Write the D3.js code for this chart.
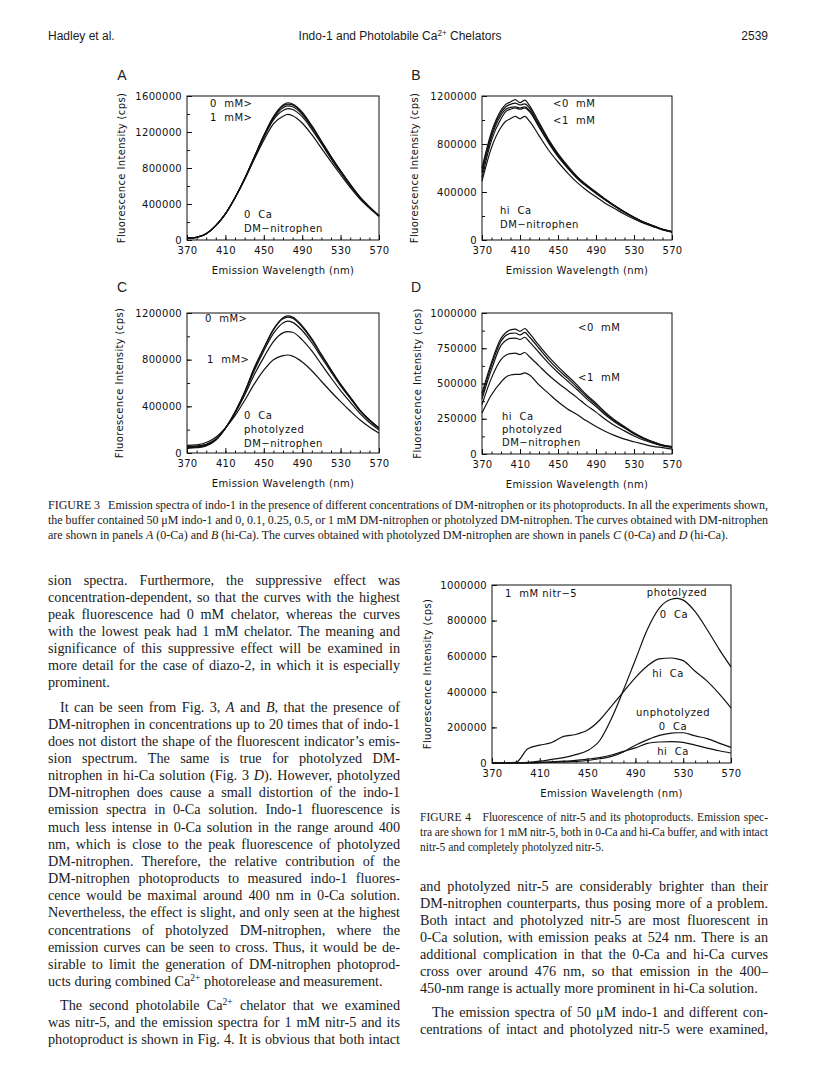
<!DOCTYPE html>
<html>
<head>
<meta charset="utf-8">
<script src="https://cdn.jsdelivr.net/npm/d3@7"></script>
<style>
  body { margin: 0; background: #fff; }
</style>
</head>
<body>
<svg id="page" width="816" height="1086"></svg>
<script>
// ---- data (intensities in thousands of cps) ----
const wlAC = [370,380,390,400,410,420,430,440,450,460,470,475,480,490,500,510,520,530,540,550,560,570]
const wlBD = [370,380,390,395,400,405,410,415,420,430,440,450,460,470,480,490,500,510,520,530,540,550,560,570]
const wlF4 = [370,380,390,400,410,420,430,440,450,460,470,480,490,500,510,520,525,530,540,550,560,570]

// A: 0 Ca, DM-nitrophen 0, 0.1, 0.25, 0.5, 1 mM
const a0   = [20,30,70,160,290,470,680,920,1160,1370,1500,1525,1510,1420,1270,1100,930,770,620,480,370,270]
const a01  = [20,30,70,160,290,470,680,920,1160,1365,1490,1510,1500,1410,1265,1095,925,765,615,478,368,268]
const a025 = [20,30,70,160,290,470,680,915,1150,1350,1470,1490,1480,1395,1250,1085,915,758,610,475,366,267]
const a05  = [20,30,70,160,290,470,675,910,1140,1335,1440,1460,1450,1370,1230,1070,905,750,605,470,363,265]
const a1   = [20,30,70,160,290,468,670,895,1110,1290,1375,1395,1380,1300,1170,1020,870,725,585,458,355,262]

// B: hi Ca, DM-nitrophen
const b0   = [600,900,1080,1130,1150,1170,1145,1165,1120,980,840,720,620,530,460,400,340,285,235,190,150,120,90,70]
const b01  = [580,880,1060,1110,1130,1140,1125,1135,1100,965,830,712,612,525,455,395,337,283,233,189,149,119,89,69]
const b025 = [560,860,1040,1090,1105,1110,1100,1110,1080,950,820,705,607,520,451,392,335,281,232,188,148,118,88,68]
const b05  = [520,830,1010,1070,1090,1100,1090,1100,1070,940,810,695,600,515,447,388,332,279,230,187,147,117,88,68]
const b1   = [490,770,940,990,1010,1030,1010,1030,990,870,750,650,560,480,415,360,305,260,215,175,140,112,85,66]

// C: 0 Ca, photolyzed DM-nitrophen
const c0   = [40,45,60,110,210,350,520,730,900,1060,1160,1175,1165,1090,980,845,715,590,480,370,285,215]
const c01  = [45,50,65,112,212,350,520,718,895,1055,1150,1165,1155,1080,970,838,710,586,477,368,283,214]
const c025 = [50,55,70,115,213,348,515,705,875,1025,1115,1130,1120,1050,945,820,695,575,468,362,279,211]
const c05  = [55,60,75,120,214,340,495,670,820,955,1030,1040,1035,970,875,760,645,535,437,340,262,198]
const c1   = [65,70,90,135,215,320,450,590,710,800,835,840,830,780,705,615,525,440,360,285,222,170]

// D: hi Ca, photolyzed DM-nitrophen
const d0   = [430,650,820,860,880,885,870,890,855,770,690,620,555,490,420,360,295,240,195,150,115,87,64,52]
const d01  = [410,630,800,840,855,858,845,862,830,750,670,600,538,475,408,350,287,234,190,146,112,85,63,51]
const d025 = [390,600,770,805,820,822,812,828,795,720,645,578,518,457,393,337,277,226,184,142,109,83,61,50]
const d05  = [350,540,670,700,712,715,705,720,690,625,560,503,452,400,345,297,245,200,164,128,99,76,57,47]
const d1   = [290,420,510,545,560,565,565,575,560,490,430,370,320,280,235,195,160,130,105,87,70,54,45,35]

// Fig 4: 1 mM nitr-5
const photo0Ca   = [0,0,0,3,10,20,30,47,70,125,250,410,580,750,870,920,925,915,850,750,640,540]
const photoHiCa  = [0,0,3,80,100,115,150,160,185,240,320,400,480,545,585,590,585,575,515,460,390,310]
const unph0Ca    = [0,0,0,0,2,4,6,9,14,24,37,62,100,130,155,168,170,170,152,137,112,88]
const unphHiCa   = [0,0,0,0,3,6,10,15,22,30,45,65,85,110,118,120,119,116,100,84,69,56]

// ---- layout ----
const panels = [
  {letter: "A", lx: 122, ly: 75, x0: 187, x1: 379, y0: 96, y1: 240, ymax: 1600, major: 400, minor: 200,
   wl: wlAC, series: [a0, a01, a025, a05, a1], titleX: 121,
   notes: [["0 mM>", 210, 103], ["1 mM>", 210, 117], ["0 Ca", 244, 214], ["DM\u2212nitrophen", 244, 228]]},
  {letter: "B", lx: 416, ly: 75, x0: 482, x1: 672, y0: 96, y1: 240, ymax: 1200, major: 400, minor: 200,
   wl: wlBD, series: [b0, b01, b025, b05, b1], titleX: 414,
   notes: [["<0 mM", 553, 103], ["<1 mM", 553, 120], ["hi Ca", 500, 210], ["DM\u2212nitrophen", 500, 224]]},
  {letter: "C", lx: 122, ly: 287, x0: 187, x1: 379, y0: 313, y1: 453, ymax: 1200, major: 400, minor: 200,
   wl: wlAC, series: [c0, c01, c025, c05, c1], titleX: 119,
   notes: [["0 mM>", 205, 318], ["1 mM>", 207, 359], ["0 Ca", 244, 415], ["photolyzed", 244, 429], ["DM\u2212nitrophen", 244, 443]]},
  {letter: "D", lx: 416, ly: 287, x0: 482, x1: 672, y0: 313, y1: 454, ymax: 1000, major: 250, minor: 125,
   wl: wlBD, series: [d0, d01, d025, d05, d1], titleX: 417,
   notes: [["<0 mM", 578, 327], ["<1 mM", 578, 377], ["hi Ca", 502, 416], ["photolyzed", 502, 429], ["DM\u2212nitrophen", 502, 442]]},
  {letter: "", x0: 492, x1: 731, y0: 585, y1: 763, ymax: 1000, major: 200, minor: 200,
   wl: wlF4, series: [photo0Ca, photoHiCa, unph0Ca, unphHiCa], titleX: 427,
   notes: [["1 mM nitr\u22125", 505, 593]],
   cnotes: [["photolyzed", 677, 592], ["0 Ca", 674, 614], ["hi Ca", 668, 673], ["unphotolyzed", 673, 712], ["0 Ca", 673, 726], ["hi Ca", 673, 751]]}
]

const svg = d3.select("#page")
svg.append("rect").attr("width", 816).attr("height", 1086).attr("fill", "#fff")

const plotFont = "DejaVu Sans"
const ink = "#111"

function styleLabels(a) {
  a.select(".domain").remove()
  a.attr("font-family", plotFont)
  a.selectAll("text").attr("font-size", 10).attr("letter-spacing", 0.3).attr("fill", ink)
}

function drawPanel(p) {
  const x = d3.scaleLinear().domain([370, 570]).range([p.x0, p.x1])
  const y = d3.scaleLinear().domain([0, p.ymax]).range([p.y1, p.y0])
  const g = svg.append("g").attr("font-family", plotFont)

  if (p.letter) {
    svg.append("text").attr("x", p.lx).attr("y", p.ly + 5).attr("text-anchor", "middle")
      .attr("font-family", "Liberation Sans").attr("font-size", 14).attr("fill", "#222").text(p.letter)
  }

  // minor ticks
  g.append("g").attr("transform", `translate(0,${p.y1})`)
    .call(d3.axisBottom(x).tickValues(d3.range(370, 571, 10)).tickSize(-2.5).tickFormat(""))
    .call(a => a.select(".domain").remove())
  g.append("g").attr("transform", `translate(${p.x0},0)`)
    .call(d3.axisLeft(y).tickValues(d3.range(0, p.ymax + 1, p.minor)).tickSize(-3).tickFormat(""))
    .call(a => a.select(".domain").remove())

  // major ticks + labels
  g.append("g").attr("transform", `translate(0,${p.y1})`)
    .call(d3.axisBottom(x).tickValues(d3.range(370, 571, 40)).tickSize(-5).tickPadding(7).tickFormat(d3.format("d")))
    .call(styleLabels)
  g.append("g").attr("transform", `translate(${p.x0},0)`)
    .call(d3.axisLeft(y).tickValues(d3.range(0, p.ymax + 1, p.major)).tickSize(-5).tickPadding(5).tickFormat(d => d * 1000))
    .call(styleLabels)

  g.selectAll(".tick line").attr("stroke", ink)

  g.append("rect").attr("x", p.x0).attr("y", p.y0).attr("width", p.x1 - p.x0).attr("height", p.y1 - p.y0)
    .attr("fill", "none").attr("stroke", ink).attr("stroke-width", 1)

  const line = d3.line().x((d, i) => x(p.wl[i])).y(d => y(d)).curve(d3.curveMonotoneX)
  g.selectAll("path.curve").data(p.series).join("path").attr("class", "curve")
    .attr("d", line).attr("fill", "none").attr("stroke", ink).attr("stroke-width", 1.2)

  // axis titles
  g.append("text").attr("x", (p.x0 + p.x1) / 2).attr("y", p.y1 + 34).attr("text-anchor", "middle")
    .attr("font-size", 10).attr("letter-spacing", 0.35).attr("fill", ink).text("Emission Wavelength (nm)")
  g.append("text").attr("transform", `translate(${p.titleX},${(p.y0 + p.y1) / 2}) rotate(-90)`)
    .attr("dy", "0.35em").attr("text-anchor", "middle")
    .attr("font-size", 10).attr("letter-spacing", 0.35).attr("fill", ink).text("Fluorescence Intensity (cps)")

  g.selectAll("text.note").data(p.notes).join("text").attr("class", "note")
    .attr("x", d => d[1]).attr("y", d => d[2]).attr("dy", "0.35em")
    .attr("font-size", 10).attr("letter-spacing", 0.5).attr("fill", ink)
    .style("white-space", "pre").text(d => d[0].replace(" ", "  "))
  if (p.cnotes) {
    g.selectAll("text.cnote").data(p.cnotes).join("text").attr("class", "cnote")
      .attr("x", d => d[1]).attr("y", d => d[2]).attr("dy", "0.35em").attr("text-anchor", "middle")
      .attr("font-size", 10).attr("letter-spacing", 0.5).attr("fill", ink)
      .style("white-space", "pre").text(d => d[0].replace(" ", "  "))
  }
}

panels.forEach(drawPanel)

// ---- page text ----
function addRich(sel, str) {
  str.split(/(_[^_]+_|\^[^^]+\^)/).filter(s => s.length).forEach(s => {
    if (s[0] === "_") sel.append("tspan").attr("font-style", "italic").text(s.slice(1, -1))
    else if (s[0] === "^") sel.append("tspan").attr("baseline-shift", "super").attr("font-size", "68%").text(s.slice(1, -1))
    else sel.append("tspan").text(s)
  })
}

// justified lines get their slack spread over the word spaces
function textLine(t, x, yc, size, width, justify, family) {
  const el = svg.append("text").attr("x", x).attr("y", yc + size * 0.32)
    .attr("font-family", family || "Liberation Serif").attr("font-size", size).attr("fill", "#1a1a1a")
    .style("white-space", "pre")
  addRich(el, t)
  if (justify) {
    const plain = t.replace(/[_^]/g, "")
    const n = (plain.match(/ /g) || []).length
    const len = el.node().getComputedTextLength()
    if (n > 0) el.style("word-spacing", ((width - len) / n) + "px")
  }
  return el
}

// running head
textLine("Hadley et al.", 48, 36, 12, 0, false, "Liberation Sans")
textLine("Indo-1 and Photolabile Ca^2+^ Chelators", 400, 36, 12, 0, false, "Liberation Sans").attr("text-anchor", "middle")
textLine("2539", 768, 36, 12, 0, false, "Liberation Sans").attr("text-anchor", "end")

const caption3 = [
  ["FIGURE 3   Emission spectra of indo-1 in the presence of different concentrations of DM-nitrophen or its photoproducts. In all the experiments shown,", true],
  ["the buffer contained 50 \u03bcM indo-1 and 0, 0.1, 0.25, 0.5, or 1 mM DM-nitrophen or photolyzed DM-nitrophen. The curves obtained with DM-nitrophen", true],
  ["are shown in panels _A_ (0-Ca) and _B_ (hi-Ca). The curves obtained with photolyzed DM-nitrophen are shown in panels _C_ (0-Ca) and _D_ (hi-Ca).", false]
]
caption3.forEach((d, i) => textLine(d[0], 48, 505 + i * 15, 12, 720, d[1]))

// left column: [text, justified, starts paragraph]
const leftCol = [
  ["sion spectra. Furthermore, the suppressive effect was", true, false],
  ["concentration-dependent, so that the curves with the highest", true, false],
  ["peak fluorescence had 0 mM chelator, whereas the curves", true, false],
  ["with the lowest peak had 1 mM chelator. The meaning and", true, false],
  ["significance of this suppressive effect will be examined in", true, false],
  ["more detail for the case of diazo-2, in which it is especially", true, false],
  ["prominent.", false, false],
  ["It can be seen from Fig. 3, _A_ and _B_, that the presence of", true, true],
  ["DM-nitrophen in concentrations up to 20 times that of indo-1", true, false],
  ["does not distort the shape of the fluorescent indicator\u2019s emis-", true, false],
  ["sion spectrum. The same is true for photolyzed DM-", true, false],
  ["nitrophen in hi-Ca solution (Fig. 3 _D_). However, photolyzed", true, false],
  ["DM-nitrophen does cause a small distortion of the indo-1", true, false],
  ["emission spectra in 0-Ca solution. Indo-1 fluorescence is", true, false],
  ["much less intense in 0-Ca solution in the range around 400", true, false],
  ["nm, which is close to the peak fluorescence of photolyzed", true, false],
  ["DM-nitrophen. Therefore, the relative contribution of the", true, false],
  ["DM-nitrophen photoproducts to measured indo-1 fluores-", true, false],
  ["cence would be maximal around 400 nm in 0-Ca solution.", true, false],
  ["Nevertheless, the effect is slight, and only seen at the highest", true, false],
  ["concentrations of photolyzed DM-nitrophen, where the", true, false],
  ["emission curves can be seen to cross. Thus, it would be de-", true, false],
  ["sirable to limit the generation of DM-nitrophen photoprod-", true, false],
  ["ucts during combined Ca^2+^ photorelease and measurement.", false, false],
  ["The second photolabile Ca^2+^ chelator that we examined", true, true],
  ["was nitr-5, and the emission spectra for 1 mM nitr-5 and its", true, false],
  ["photoproduct is shown in Fig. 4. It is obvious that both intact", true, false]
]

const bodySize = 14.2
let paras = 0
leftCol.forEach((d, i) => {
  if (d[2]) paras++
  const indent = d[2] ? 12 : 0
  textLine(d[0], 48 + indent, 580 + i * 17.15 + paras * 7, bodySize, 352 - indent, d[1])
})

const caption4 = [
  ["FIGURE 4   Fluorescence of nitr-5 and its photoproducts. Emission spec-", true],
  ["tra are shown for 1 mM nitr-5, both in 0-Ca and hi-Ca buffer, and with intact", true],
  ["nitr-5 and completely photolyzed nitr-5.", false]
]
caption4.forEach((d, i) => textLine(d[0], 420, 817 + i * 15, 11.5, 348, d[1]))

const rightCol = [
  ["and photolyzed nitr-5 are considerably brighter than their", true, false],
  ["DM-nitrophen counterparts, thus posing more of a problem.", true, false],
  ["Both intact and photolyzed nitr-5 are most fluorescent in", true, false],
  ["0-Ca solution, with emission peaks at 524 nm. There is an", true, false],
  ["additional complication in that the 0-Ca and hi-Ca curves", true, false],
  ["cross over around 476 nm, so that emission in the 400\u2013", true, false],
  ["450-nm range is actually more prominent in hi-Ca solution.", false, false],
  ["The emission spectra of 50 \u03bcM indo-1 and different con-", true, true],
  ["centrations of intact and photolyzed nitr-5 were examined,", true, false]
]
paras = 0
rightCol.forEach((d, i) => {
  if (d[2]) paras++
  const indent = d[2] ? 12 : 0
  textLine(d[0], 420 + indent, 886 + i * 17.1 + paras * 7, bodySize, 348 - indent, d[1])
})
</script>
</body>
</html>
